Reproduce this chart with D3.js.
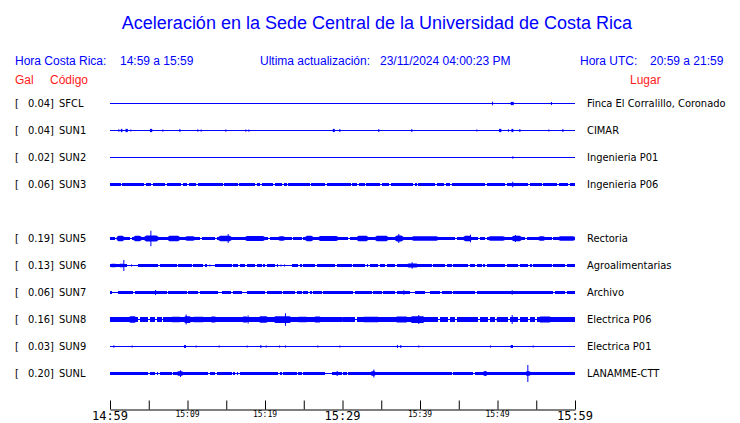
<!DOCTYPE html>
<html><head><meta charset="utf-8">
<script src="https://cdn.jsdelivr.net/npm/d3@7"></script>
<style>body{margin:0;background:#fff}</style>
</head><body><svg id="c" width="740" height="423"></svg>
<script>
// ---- data ----
const slots = ["SFCL","SUN1","SUN2","SUN3","SUN4","SUN5","SUN6","SUN7","SUN8","SUN9","SUNL"];
const codes = ["SFCL","SUN1","SUN2","SUN3","SUN5","SUN6","SUN7","SUN8","SUN9","SUNL"];
const places = ["Finca El Corralillo, Coronado","CIMAR","Ingenieria P01","Ingenieria P06","Rectoria","Agroalimentarias","Archivo","Electrica P06","Electrica P01","LANAMME-CTT"];
const maxGal = [0.04,0.04,0.02,0.06,0.19,0.13,0.06,0.16,0.03,0.20];
// continuous background band half-amplitude (Gal)
const noise = [0,0,0,0.038,0.044,0.029,0.033,0.045,0,0.044];
// dropouts of the band (minutes after 14:59); number = short break
const gaps = [
  [],[],[],
  [1.38,4.43,5.29,7.10,9.16,9.94,11.14,14.54,16.47,18.71,19.40,21.03,22.24,22.80,25.76,27.74,31.05,31.87,32.86,34.88,36.04,39.14,39.57,41.94,43.10,43.87,48.39,50.97,53.98,55.70,57.72,59.14],
  [0.65,2.58,11.61,13.55,20.43,23.44,24.73,30.75,44.52,47.53,48.39,53.55,56.99],
  [[2.15,3.66],6.24,8.60,10.54,12.04,[12.47,13.55],15.70,16.56,17.42,18.71,19.57,20.0,21.29,[21.72,23.44],24.3,24.73,26.45,29.03,31.18,32.9,33.33,34.62,35.48,36.77,41.5,43.23,44.09,46.24,47.1,47.96,48.39,50.97,52.69,53.98,54.41,56.99,58.71],
  [[0.30,0.99],3.01,7.31,9.89,11.4,[13.98,14.41],15.61,[16.99,17.63],20.0,22.15,23.87,24.73,25.59,26.02,27.31,31.40,33.76,35.05,36.77,[38.71,39.35],[40.65,41.29],42.58,44.09,[47.1,47.4],57.2,58.71],
  [3.66,4.95,5.81,6.67,29.89,31.61,42.37,43.66,44.52,47.53,48.82,49.68,51.4,52.69,53.98,54.84],
  [],
  [4.95,5.81,6.24,7.96,12.69,13.55,15.7,16.13,16.56,21.72,22.15,24.09,24.73,[27.74,28.6],29.89,30.54,44.09,46.88]
];
// bursts / spikes: [start min, end min, peak Gal]
const bursts = [
  [[49.3,49.3,0.037],[51.7,52.1,0.036],[56.9,56.9,0.033]],
  [[1.08,1.08,0.028],[1.4,1.6,0.036],[2.0,2.3,0.036],[2.62,2.62,0.02],[5.15,5.45,0.036],[6.75,6.75,0.025],[8.95,8.95,0.036],[11.27,11.27,0.03],[11.70,11.70,0.025],[14.88,14.88,0.025],[17.46,17.46,0.025],[17.85,17.85,0.025],[28.75,29.0,0.036],[29.59,29.59,0.033],[34.62,34.62,0.033],[38.88,38.88,0.033],[47.27,47.27,0.02],[50.2,50.5,0.036],[51.35,51.35,0.03],[51.8,52.05,0.036],[52.82,52.82,0.033],[56.56,56.56,0.02],[58.37,58.37,0.033]],
  [[51.91,51.91,0.03]],
  [[51.9,51.9,0.06]],
  [[0.86,1.85,0.06],[3.01,4.09,0.06],[4.43,6.24,0.065],[5.21,5.21,0.17],[7.44,9.03,0.06],[9.68,10.97,0.052],[13.98,15.7,0.06],[15.18,15.18,0.1],[17.42,20.0,0.055],[21.72,22.58,0.052],[25.16,26.24,0.06],[26.88,29.46,0.055],[31.83,33.33,0.06],[34.19,35.91,0.06],[36.77,37.85,0.065],[37.2,37.2,0.1],[38.92,42.37,0.052],[45.59,46.67,0.06],[46.45,46.45,0.085],[48.82,50.97,0.052],[51.83,53.12,0.06],[52.26,52.26,0.08],[55.27,56.13,0.052],[57.85,60,0.052]],
  [[0,0.9,0.04],[1.1,1.9,0.04],[1.72,1.72,0.12],[2.71,2.71,0.02],[12.82,12.82,0.02],[22.0,22.0,0.02],[22.45,22.45,0.02],[38.28,39.78,0.045],[38.92,38.92,0.07]],
  [[5.81,5.81,0.055],[37.85,37.85,0.05],[51.83,51.83,0.05]],
  [[0,1.08,0.052],[2.37,3.44,0.07],[4.5,4.5,0.055],[5.3,5.3,0.055],[6.2,6.2,0.055],[7.0,7.0,0.055],[7.74,9.25,0.06],[9.46,10.54,0.075],[9.76,9.76,0.11],[10.54,12.26,0.06],[12.9,13.76,0.068],[14.84,16.56,0.052],[16.99,17.85,0.068],[17.76,17.76,0.09],[19.14,20.43,0.07],[21.08,23.44,0.075],[22.58,22.58,0.14],[24.09,25.59,0.06],[26.24,27.31,0.068],[28.6,31.18,0.052],[32.47,34.84,0.06],[36.77,38.49,0.068],[38.71,40.65,0.075],[39.78,39.78,0.1],[42.8,43.23,0.052],[44.95,47.1,0.052],[49.89,50.97,0.052],[51.83,51.83,0.1],[55.27,56.99,0.068]],
  [[0.43,0.43,0.028],[2.80,2.80,0.02],[9.55,9.8,0.033],[11.05,11.05,0.02],[14.02,14.02,0.02],[17.63,17.63,0.02],[19.4,19.4,0.033],[20.09,20.09,0.02],[21.81,21.81,0.02],[22.58,22.58,0.02],[26.75,26.75,0.02],[29.59,29.59,0.02],[37.03,37.03,0.033],[37.46,37.46,0.033],[39.78,39.78,0.02],[49.03,49.03,0.02],[51.7,52.0,0.033],[54.54,54.54,0.02]],
  [[8.6,9.5,0.05],[9.03,9.03,0.075],[29.25,29.25,0.055],[33.6,34.3,0.05],[33.98,33.98,0.09],[48.2,48.6,0.05],[48.39,48.39,0.055],[53.6,54.3,0.05],[53.85,53.85,0.19]]
];
const tickMinutes = [0,5,10,15,20,25,30,35,40,45,50,55,60];
const labelMinutes = [0,10,20,30,40,50,60];
const tickLabels = ["14:59","15:09","15:19","15:29","15:39","15:49","15:59"];
const majorLabels = ["14:59","15:29","15:59"];
const title = "Aceleración en la Sede Central de la Universidad de Costa Rica";

// ---- drawing ----
const BLUE = "#0000ff", RED = "#ff1a1a";
const svg = d3.select("#c");
const x = d3.scaleLinear().domain([0,60]).range([110,575]);
const y = d3.scalePoint().domain(slots).range([103,373]);
const amp = d3.scaleLinear().domain([0,0.2]).range([0,9]);
const sans = "'Liberation Sans', Arial, sans-serif";
const cond = "'DejaVu Sans Condensed','DejaVu Sans',sans-serif";
const mono = "'DejaVu Sans Mono',monospace";

svg.append("text").attr("x",377).attr("y",29).attr("text-anchor","middle")
  .attr("font-family",sans).attr("font-size",18).attr("fill",BLUE).text(title);

const hdr = [
  [15,"Hora Costa Rica:"],[120,"14:59 a 15:59"],[260,"Ultima actualización:"],
  [380,"23/11/2024 04:00:23 PM"],[580,"Hora UTC:"],[650,"20:59 a 21:59"]];
svg.selectAll("text.hdr").data(hdr).join("text").attr("class","hdr")
  .attr("x",d=>d[0]).attr("y",65).attr("font-family",sans).attr("font-size",12)
  .attr("fill",BLUE).text(d=>d[1]);
const hdr2 = [[15,"Gal"],[50,"Código"],[630,"Lugar"]];
svg.selectAll("text.hdr2").data(hdr2).join("text").attr("class","hdr2")
  .attr("x",d=>d[0]).attr("y",84).attr("font-family",sans).attr("font-size",12)
  .attr("fill",RED).text(d=>d[1]);

// tapered packet outline for a burst
function packet(d, yc){
  const x0 = x(d[0]), x1 = Math.max(x(d[1]), x0+1), h = amp(d[2]);
  const w = x1 - x0;
  if (w < 4) return `M${x0},${yc-h}H${x1}V${yc+h}H${x0}Z`;
  const t = Math.min(2, w*0.25), h2 = Math.max(h*0.6, 1);
  return `M${x0},${yc-h2}L${x0+t},${yc-h}H${x1-t}L${x1},${yc-h2}V${yc+h2}L${x1-t},${yc+h}H${x0+t}L${x0},${yc+h2}Z`;
}

codes.forEach((code,i)=>{
  const yc = y(code);
  const g = svg.append("g");
  const lab = g.append("g").attr("font-family",cond).attr("font-size",11).attr("fill","#000");
  lab.append("text").attr("x",15).attr("y",yc+4).text("[");
  lab.append("text").attr("x",28).attr("y",yc+4).text(maxGal[i].toFixed(2)+"]");
  lab.append("text").attr("x",59).attr("y",yc+4).text(code);
  lab.append("text").attr("x",587).attr("y",yc+4).text(places[i]);
  g.append("line").attr("x1",x(0)).attr("x2",x(60)).attr("y1",yc+0.5).attr("y2",yc+0.5)
    .attr("stroke",BLUE).attr("stroke-width",1);
  if(noise[i]>0){
    const gs = gaps[i].map(d=>Array.isArray(d)?d:[d,d+0.2]).sort((a,b)=>a[0]-b[0]);
    const segs=[]; let s=0;
    gs.forEach(gp=>{ if(gp[0]>s) segs.push([s,gp[0]]); s=gp[1]; });
    if(s<60) segs.push([s,60]);
    const h = amp(noise[i]);
    g.selectAll("rect.band").data(segs).join("rect").attr("class","band")
      .attr("x",d=>x(d[0])).attr("width",d=>Math.max(1,x(d[1])-x(d[0])))
      .attr("y",yc+0.5-h).attr("height",2*h).attr("fill",BLUE)
      .attr("shape-rendering","crispEdges");
  }
  g.selectAll("path.burst").data(bursts[i]).join("path").attr("class","burst")
    .attr("d",d=>packet(d, yc+0.5)).attr("fill",BLUE);
});

// axis
const axis = d3.axisTop(x).tickValues(tickMinutes).tickSize(9).tickSizeOuter(0).tickFormat("");
const ag = svg.append("g").attr("transform","translate(0,409.5)").call(axis);
ag.selectAll("path,line").attr("stroke","#000").attr("stroke-width",1);
svg.selectAll("text.tl").data(labelMinutes).join("text").attr("class","tl")
  .attr("x",d=>x(d)).attr("text-anchor","middle")
  .attr("y",(d,i)=>majorLabels.includes(tickLabels[i])?420:417)
  .attr("font-family",mono)
  .attr("font-size",(d,i)=>majorLabels.includes(tickLabels[i])?12:8)
  .attr("fill","#000").text((d,i)=>tickLabels[i]);
</script></body></html>
